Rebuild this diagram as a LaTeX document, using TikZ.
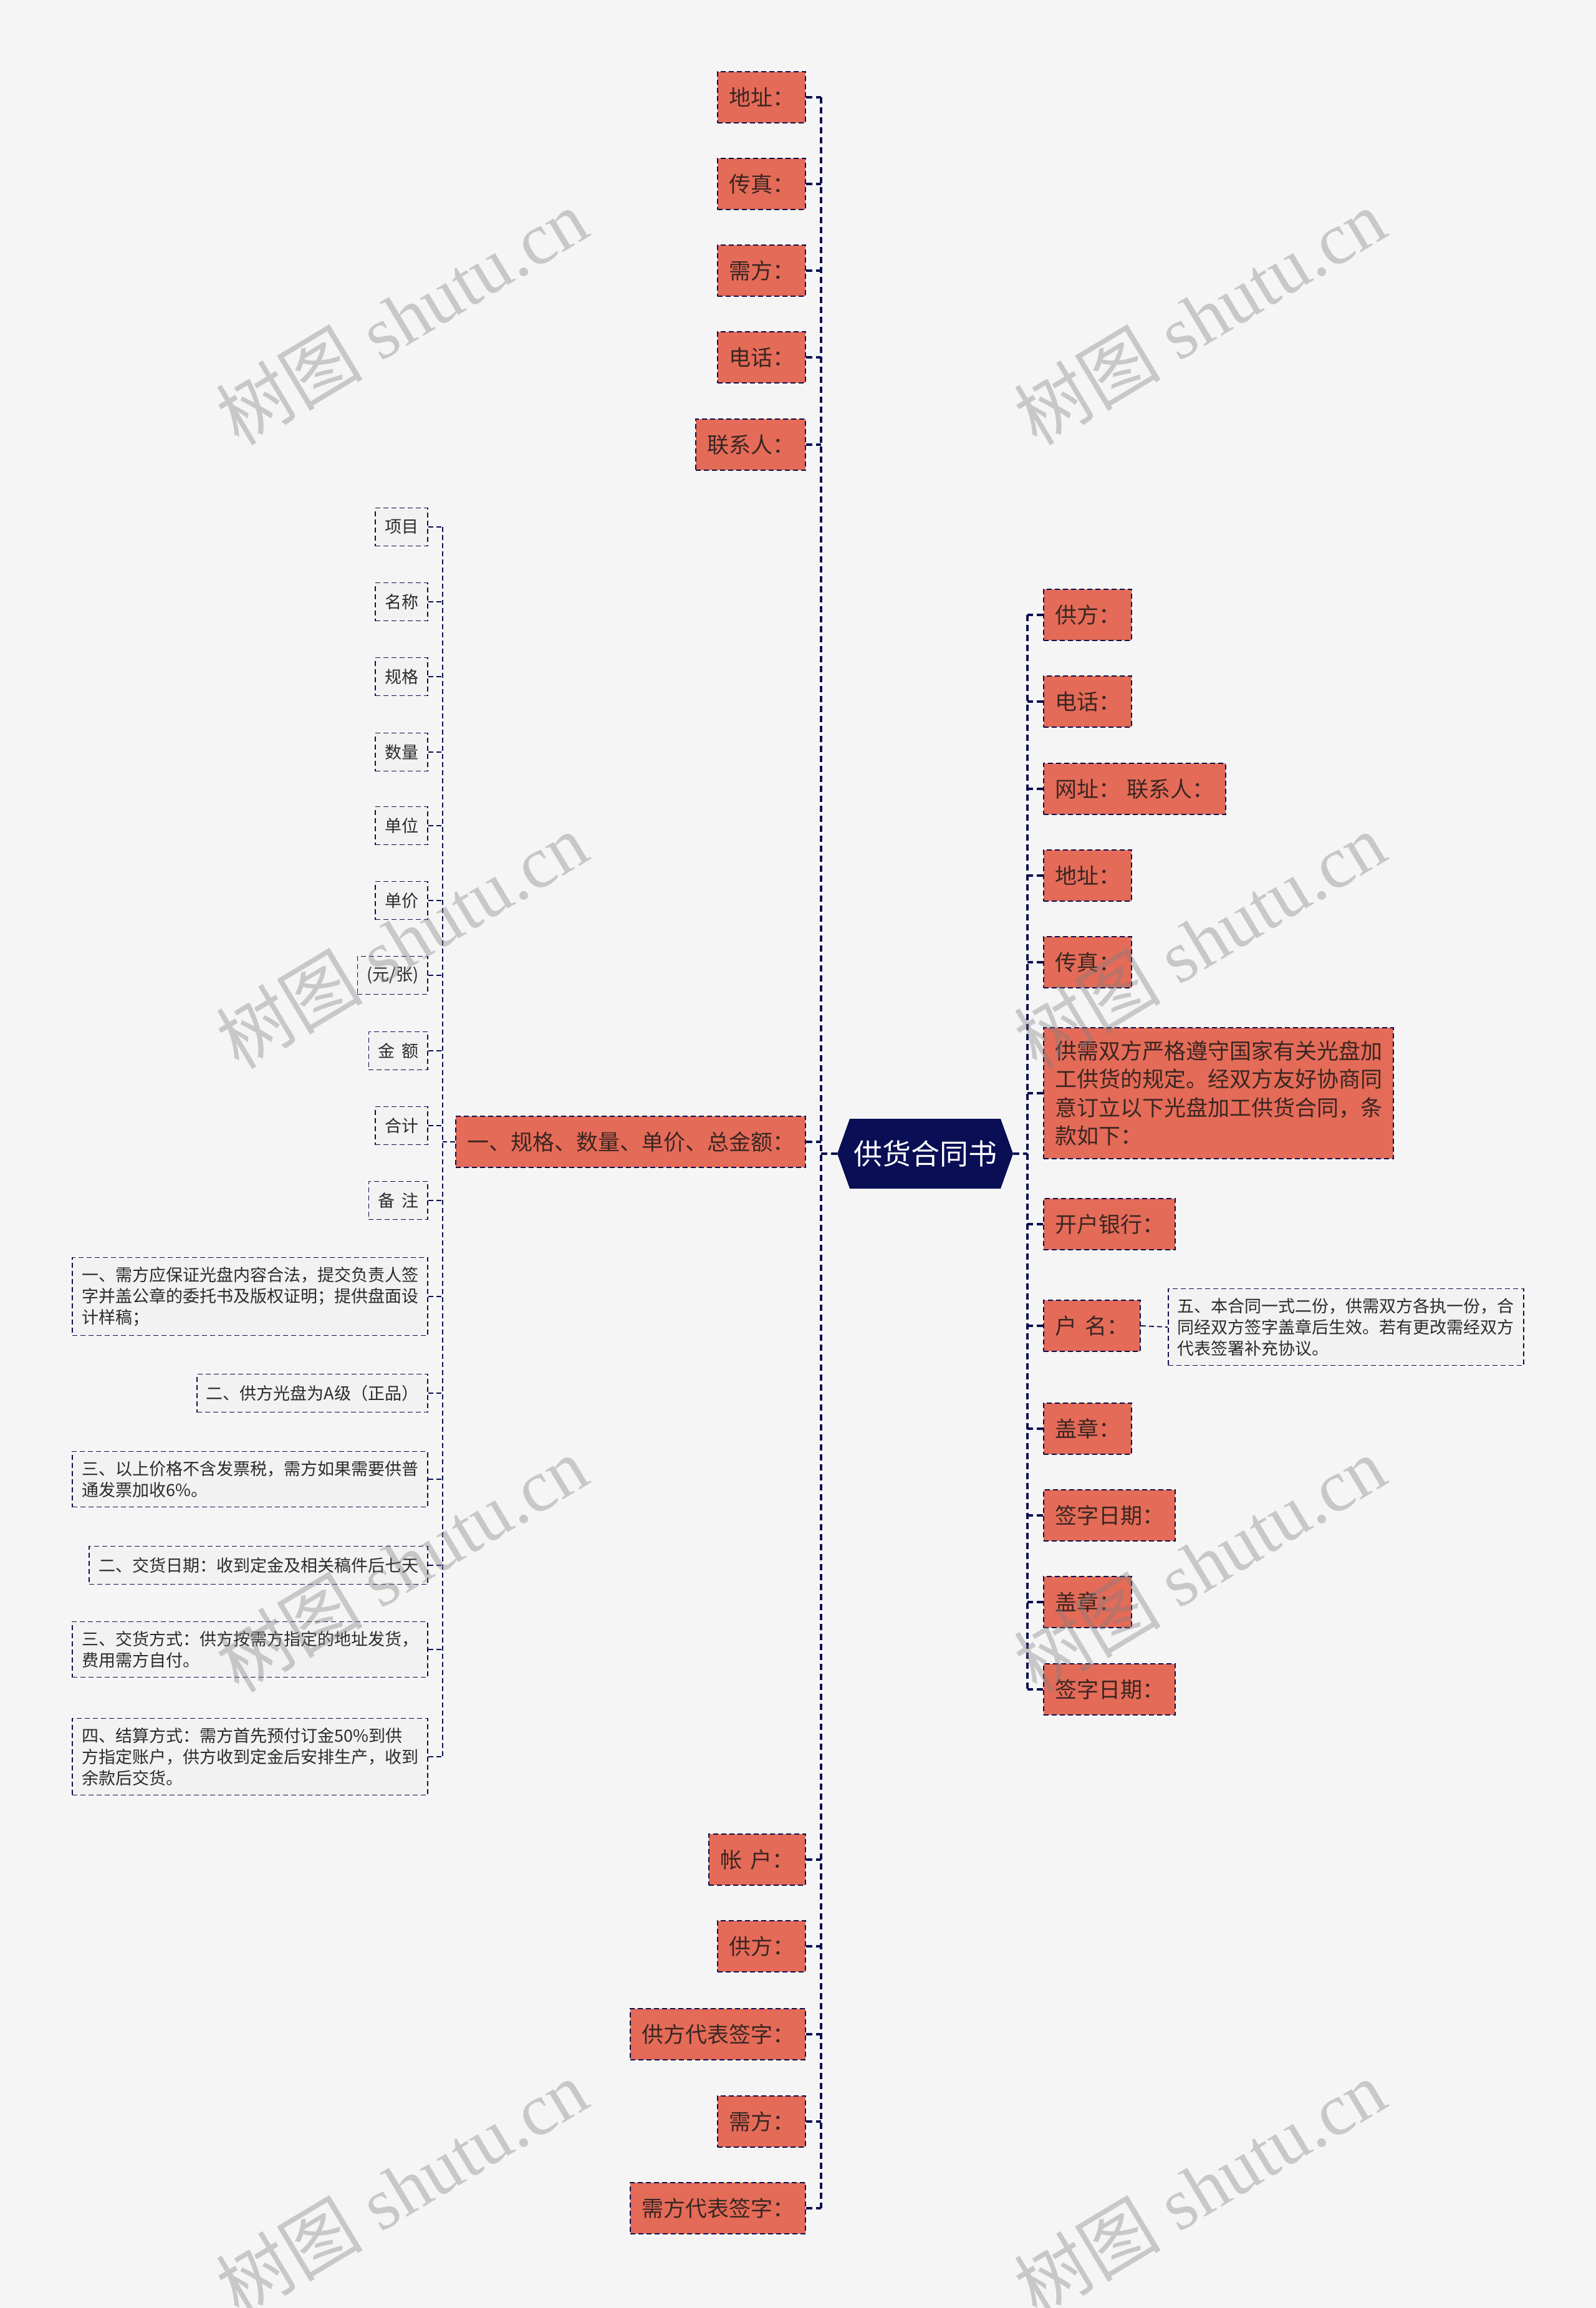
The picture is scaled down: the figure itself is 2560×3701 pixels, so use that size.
\documentclass[tikz,border=0pt]{standalone}
\usepackage{fontspec}
\setmainfont{Noto Sans CJK SC}
\newfontfamily\wmserif{Liberation Serif}
\usetikzlibrary{calc}
\definecolor{bgc}{HTML}{F5F5F5}
\definecolor{navy}{HTML}{0B0F4F}
\definecolor{rootc}{HTML}{090E55}
\definecolor{ofill}{HTML}{E46B58}
\definecolor{otext}{HTML}{3A2622}
\definecolor{gfill}{HTML}{F2F2F2}
\definecolor{gtext}{HTML}{2B2B2B}
\definecolor{wmc}{HTML}{808080}
\begin{document}
\begin{tikzpicture}[x=0.5pt,y=-0.5pt,
  conn/.style={draw=navy,line width=1.6pt,dash pattern=on 5pt off 3pt},
  subconn/.style={draw=navy,line width=0.9pt,dash pattern=on 4pt off 2.5pt},
  onode/.style={fill=ofill,draw=navy,line width=1pt,dash pattern=on 4pt off 2.5pt,text=otext,
    font=\fontsize{17.5pt}{22.8pt}\selectfont,inner xsep=9pt,inner ysep=10pt,minimum height=41pt,align=left},
  gnode/.style={fill=gfill,draw=navy,line width=0.8pt,dash pattern=on 4pt off 2.5pt,text=gtext,
    font=\fontsize{13.5pt}{17pt}\selectfont,inner xsep=7.5pt,inner ysep=7.5pt,minimum height=30.5pt,align=left},
  wm/.style={text=wmc,text opacity=0.38,rotate=31,font=\fontsize{59pt}{59pt}\selectfont}
]
\fill[bgc] (0,0) rectangle (2560,3701);
\useasboundingbox (0,0) rectangle (2560,3701);

% spine coordinates
\coordinate (sL) at (1317,0);
\coordinate (sR) at (1648,0);
\coordinate (sS) at (710,0);

% root
\coordinate (rc) at (1484,1850);
\fill[rootc] ($(rc)+(-141,0)$) -- ($(rc)+(-121,-56)$) -- ($(rc)+(121,-56)$) -- ($(rc)+(141,0)$)
  -- ($(rc)+(121,56)$) -- ($(rc)+(-121,56)$) -- cycle;
\node[text=white,font=\fontsize{23pt}{23pt}\selectfont,minimum width=141pt,minimum height=56pt,inner sep=0pt] (root) at (rc) {供货合同书};

% left top
\node[onode,anchor=east] (L1) at (1293,156) {地址：};
\node[onode,anchor=east] (L2) at (1293,295) {传真：};
\node[onode,anchor=east] (L3) at (1293,434) {需方：};
\node[onode,anchor=east] (L4) at (1293,573) {电话：};
\node[onode,anchor=east] (L5) at (1293,713) {联系人：};
\node[onode,anchor=east] (M) at (1293,1831) {一、规格、数量、单价、总金额：};
\node[onode,anchor=east] (B1) at (1293,2982) {帐\hspace{0.4em}户：};
\node[onode,anchor=east] (B2) at (1293,3121) {供方：};
\node[onode,anchor=east] (B3) at (1293,3262) {供方代表签字：};
\node[onode,anchor=east] (B4) at (1293,3402) {需方：};
\node[onode,anchor=east] (B5) at (1293,3541) {需方代表签字：};

% sub children
\node[gnode,anchor=east] (S1) at (687,845) {项目};
\node[gnode,anchor=east] (S2) at (687,965) {名称};
\node[gnode,anchor=east] (S3) at (687,1085) {规格};
\node[gnode,anchor=east] (S4) at (687,1206) {数量};
\node[gnode,anchor=east] (S5) at (687,1324) {单位};
\node[gnode,anchor=east] (S6) at (687,1444) {单价};
\node[gnode,anchor=east] (S7) at (687,1564) {(元/张)};
\node[gnode,anchor=east] (S8) at (687,1685) {金\hspace{0.4em}额};
\node[gnode,anchor=east] (S9) at (687,1805) {合计};
\node[gnode,anchor=east] (S10) at (687,1925) {备\hspace{0.4em}注};
\node[gnode,anchor=east] (S11) at (687,2079) {一、需方应保证光盘内容合法，提交负责人签\\字并盖公章的委托书及版权证明；提供盘面设\\计样稿；};
\node[gnode,anchor=east] (S12) at (687,2234) {二、供方光盘为A级（正品）};
\node[gnode,anchor=east] (S13) at (687,2372) {三、以上价格不含发票税，需方如果需要供普\\通发票加收6\%。};
\node[gnode,anchor=east] (S14) at (687,2510) {二、交货日期：收到定金及相关稿件后七天};
\node[gnode,anchor=east] (S15) at (687,2645) {三、交货方式：供方按需方指定的地址发货，\\费用需方自付。};
\node[gnode,anchor=east] (S16) at (687,2817) {四、结算方式：需方首先预付订金50\%到供\\方指定账户，供方收到定金后安排生产，收到\\余款后交货。};

% right
\node[onode,anchor=west] (R1) at (1673,986) {供方：};
\node[onode,anchor=west] (R2) at (1673,1125) {电话：};
\node[onode,anchor=west] (R3) at (1673,1265) {网址：\hspace{0.3em}联系人：};
\node[onode,anchor=west] (R4) at (1673,1404) {地址：};
\node[onode,anchor=west] (R5) at (1673,1543) {传真：};
\node[onode,anchor=west] (R6) at (1673,1753) {供需双方严格遵守国家有关光盘加\\工供货的规定。经双方友好协商同\\意订立以下光盘加工供货合同，条\\款如下：};
\node[onode,anchor=west] (R7) at (1673,1963) {开户银行：};
\node[onode,anchor=west] (R8) at (1673,2126) {户\hspace{0.4em}名：};
\node[onode,anchor=west] (R9) at (1673,2291) {盖章：};
\node[onode,anchor=west] (R10) at (1673,2430) {签字日期：};
\node[onode,anchor=west] (R11) at (1673,2569) {盖章：};
\node[onode,anchor=west] (R12) at (1673,2709) {签字日期：};
\node[gnode,anchor=west] (C1) at (1873,2128) {五、本合同一式二份，供需双方各执一份，合\\同经双方签字盖章后生效。若有更改需经双方\\代表签署补充协议。};

% connectors: left main
\draw[conn] (root.west) -- (root.west -| sL);
\draw[conn] (sL |- L1.east) -- (sL |- B5.east);
\foreach \n in {L1,L2,L3,L4,L5,M,B1,B2,B3,B4,B5}
  \draw[conn] (\n.east) -- (\n.east -| sL);
% right main
\draw[conn] (root.east) -- (root.east -| sR);
\draw[conn] (sR |- R1.west) -- (sR |- R12.west);
\foreach \n in {R1,R2,R3,R4,R5,R6,R7,R8,R9,R10,R11,R12}
  \draw[conn] (\n.west) -- (\n.west -| sR);
% sub spine
\draw[subconn] (M.west) -- (M.west -| sS);
\draw[subconn] (sS |- S1.east) -- (sS |- S16.east);
\foreach \n in {S1,S2,S3,S4,S5,S6,S7,S8,S9,S10,S11,S12,S13,S14,S15,S16}
  \draw[subconn] (\n.east) -- (\n.east -| sS);
\draw[subconn] (R8.east) -- (C1.west);

% watermarks
\foreach \wx in {644,1924}{
  \foreach \wy in {508,1508,2508,3508}{
    \node[wm] at (\wx,\wy) {树图\hspace{0.25em}{\wmserif shutu.cn}};
  }
}
\end{tikzpicture}
\end{document}
